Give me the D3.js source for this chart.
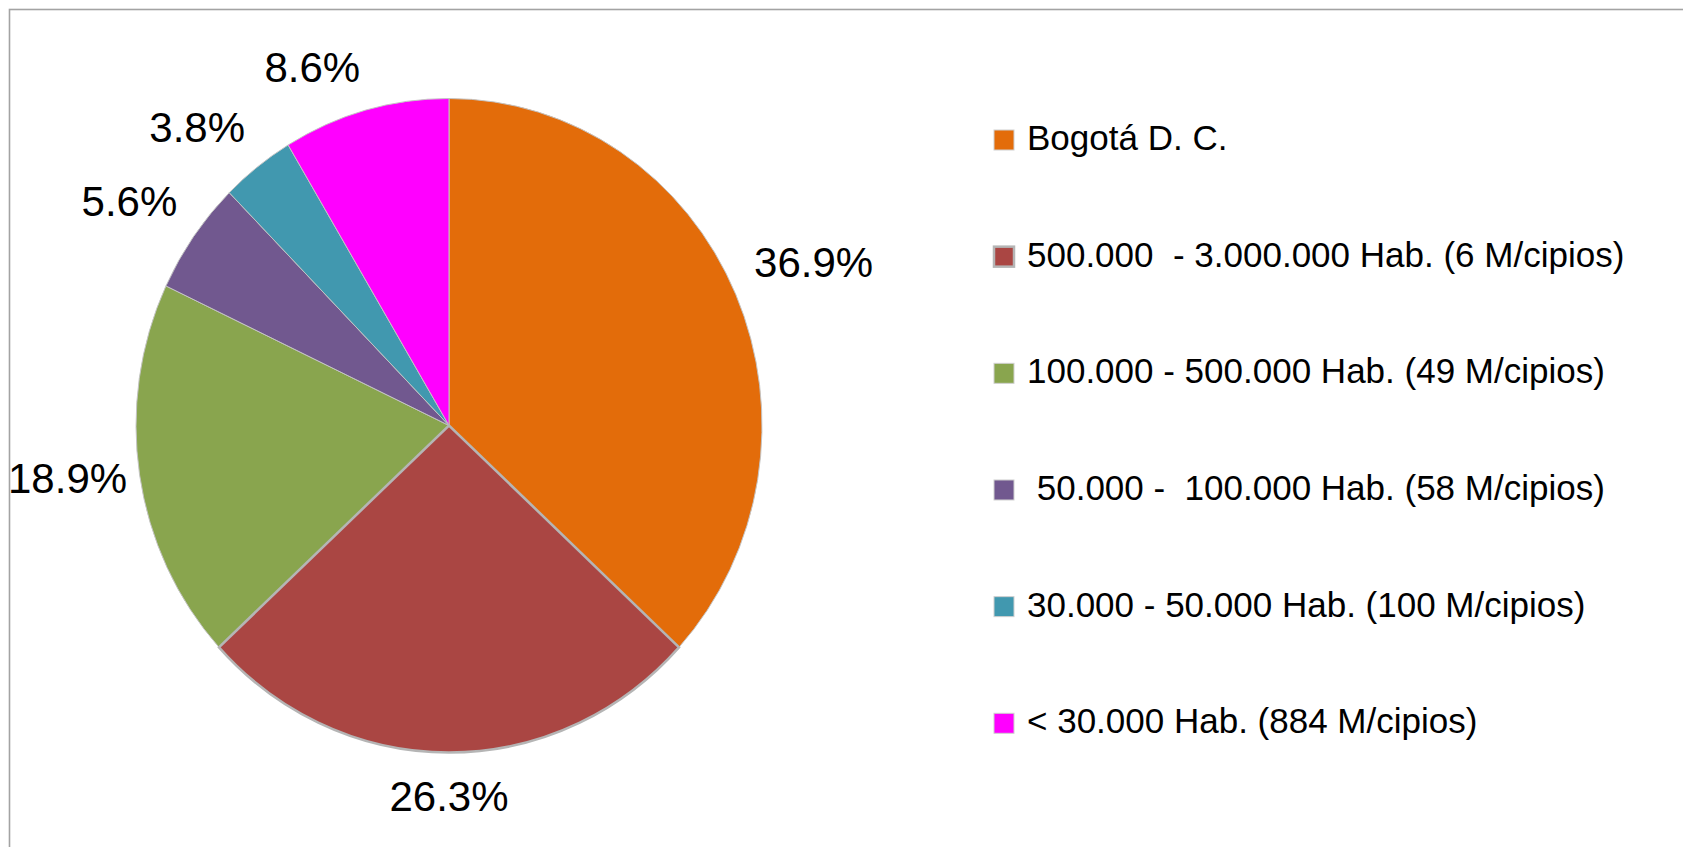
<!DOCTYPE html>
<html>
  <head>
    <meta charset="utf-8">
    <script src="https://cdnjs.cloudflare.com/ajax/libs/d3/7.8.5/d3.min.js"></script>
    <style>
      body { margin: 0; background: #fff; }
      svg { display: block; font-family: "Liberation Sans", Arial, sans-serif; }
      path.slice { stroke: #c4c4c4; stroke-width: 1; }
      path.slice.hl { stroke: #b5b5b5; stroke-width: 2.6; }
      text.pct { font-size: 42px; fill: #000; }
      text.leg { font-size: 35px; fill: #000; white-space: pre; }
    </style>
  </head>
  <body>
    <svg width="1683" height="847"></svg>
    <script>
      // groups of municipalities by population
      var categories = [
        "Bogotá D. C.",
        "500.000  - 3.000.000 Hab. (6 M/cipios)",
        "100.000 - 500.000 Hab. (49 M/cipios)",
        " 50.000 -  100.000 Hab. (58 M/cipios)",
        "30.000 - 50.000 Hab. (100 M/cipios)",
        "< 30.000 Hab. (884 M/cipios)"
      ];
      var shares = [36.9, 26.3, 18.9, 5.6, 3.8, 8.6];
      var colors = ["#E36C0A", "#AA4643", "#89A54E", "#71588F", "#4198AF", "#FF00FF"];

      var svg = d3.select("svg");

      // chart frame (only top and left show in the original)
      svg.append("rect")
        .attr("x", 9.5).attr("y", 9.5)
        .attr("width", 1700).attr("height", 900)
        .attr("fill", "none")
        .attr("stroke", "#a3a3a3")
        .attr("stroke-width", 1.6);

      var cx = 449, cy = 425.5, rx = 313, ry = 327;

      var pie = d3.pie().sort(null).value(d => d);
      var arcs = pie(shares);
      var arc = d3.arc().innerRadius(0).outerRadius(ry);

      var g = svg.append("g")
        .attr("transform", "translate(" + cx + "," + cy + ") scale(" + (rx / ry) + ",1)");

      // draw the highlighted slice last so its border stays on top
      var order = arcs.map((a, i) => i).sort((a, b) => (a === 1) - (b === 1));
      g.selectAll("path")
        .data(order.map(i => arcs[i]))
        .enter()
        .append("path")
        .attr("class", d => d.index === 1 ? "slice hl" : "slice")
        .attr("d", arc)
        .attr("fill", d => colors[d.index]);

      // percent labels, placed outside the edge like the spreadsheet does
      var gap = 20, asc = 38, desc = 9;
      arcs.forEach(function (a) {
        var m = (a.startAngle + a.endAngle) / 2;
        var s = Math.sin(m), c = Math.cos(m);
        var ax = cx + (rx + gap) * s;
        var ay = cy - (ry + gap) * c;
        var anchor = s > 0.1 ? "start" : (s < -0.1 ? "end" : "middle");
        var by;
        if (c > 0.2) by = ay - desc;
        else if (c < -0.2) by = ay + asc;
        else by = ay + (asc - desc) / 2;
        var t = svg.append("text")
          .attr("class", "pct")
          .attr("x", ax).attr("y", by)
          .attr("text-anchor", anchor)
          .text(a.data.toFixed(1) + "%");
        var bb = t.node().getBBox();
        if (bb.x < 8) {
          t.attr("text-anchor", "start").attr("x", 8);
        }
      });

      // legend
      var legY = d3.scalePoint().domain(d3.range(categories.length)).range([150, 733.3]);
      var leg = svg.append("g").selectAll("g")
        .data(categories)
        .enter()
        .append("g");

      leg.append("rect")
        .attr("x", 994)
        .attr("y", (d, i) => legY(i) - 20)
        .attr("width", 20).attr("height", 20)
        .attr("fill", (d, i) => colors[i])
        .attr("stroke", (d, i) => i === 1 ? "#b5b5b5" : "#d0d0d0")
        .attr("stroke-width", (d, i) => i === 1 ? 2.5 : 1);

      leg.append("text")
        .attr("class", "leg")
        .attr("x", 1027)
        .attr("y", (d, i) => legY(i))
        .text(d => d);
    </script>
  </body>
</html>
